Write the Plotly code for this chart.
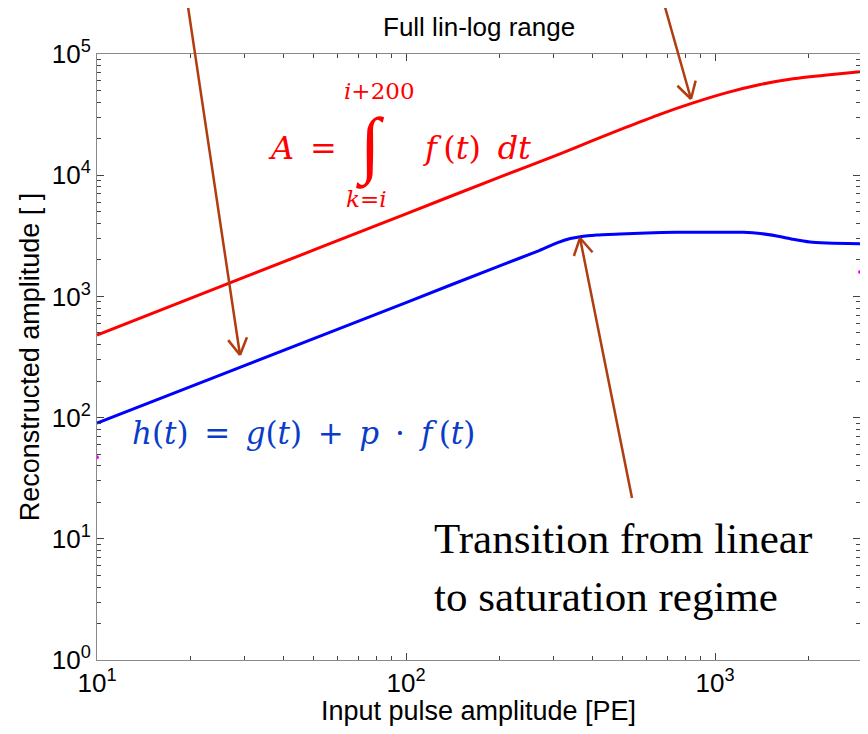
import math
import plotly.graph_objects as go

# ---- data ----
pe_red = [10, 30, 100, 200, 315, 403, 519, 663, 849, 1093, 1400, 1788, 2301, 2944]
amp_red = [480, 1440, 4800, 9600, 15000, 19400, 25000, 31800, 39500, 48000, 56000, 62500, 67200, 71400]

pe_blue = [10, 30, 100, 200, 271, 308, 340, 366, 414, 493, 600, 750, 1000, 1233, 1400, 1584, 1788, 2028, 2296, 2944]
amp_blue = [90, 268, 890, 1780, 2400, 2760, 3000, 3110, 3211, 3273, 3340, 3380, 3385, 3380, 3310, 3150, 2960, 2810, 2760, 2724]

pe_mag = [10, 2944]
amp_mag = [47, 1590]

x_tickvals = [10, 100, 1000]
x_ticktext = ["10<sup>1</sup>", "10<sup>2</sup>", "10<sup>3</sup>"]
y_tickvals = [1, 10, 100, 1000, 10000, 100000]
y_ticktext = ["10<sup>0</sup>", "10<sup>1</sup>", "10<sup>2</sup>", "10<sup>3</sup>", "10<sup>4</sup>", "10<sup>5</sup>"]

title_text = "Full lin-log range"
x_title = "Input pulse amplitude [PE]"
y_title = "Reconstructed amplitude [ ]"

# ---- layout geometry (window px; page body has an 8px margin) ----
OFF = 8
PL, PR, PT, PB = 97, 860, 54, 660          # plot area in window pixels
W, H = 852, 718
L, T = PL - OFF, PT - OFF
R = W - (PR - OFF)
B = H - (PB - OFF)
PW, PH = PR - PL, PB - PT


def pxx(xp):
    return (xp - PL) / PW


def pxy(yp):
    return (PB - yp) / PH


ARROW = "#b03c10"
FONT = "Liberation Sans, Arial, sans-serif"
SERIF = "Liberation Serif, Times New Roman, serif"
MATH = "DejaVu Serif, serif"

fig = go.Figure()
fig.add_trace(go.Scatter(x=pe_red, y=amp_red, mode="lines", line=dict(color="#ff0000", width=3, shape="spline", smoothing=0.6), showlegend=False))
fig.add_trace(go.Scatter(x=pe_blue, y=amp_blue, mode="lines", line=dict(color="#0000ff", width=3, shape="spline", smoothing=0.5), showlegend=False))
fig.add_trace(go.Scatter(x=pe_mag, y=amp_mag, mode="markers", marker=dict(color="#ff00ff", size=4), showlegend=False))

shapes = []


def arrow(x0, y0, x1, y1, head=19, ang=30):
    shapes.append(dict(type="line", xref="paper", yref="paper", x0=pxx(x0), y0=pxy(y0), x1=pxx(x1), y1=pxy(y1),
                       line=dict(color=ARROW, width=2.5)))
    dx, dy = x0 - x1, y0 - y1
    n = math.hypot(dx, dy)
    ux, uy = dx / n, dy / n
    for s in (-1, 1):
        a = math.radians(ang) * s
        wx = ux * math.cos(a) - uy * math.sin(a)
        wy = ux * math.sin(a) + uy * math.cos(a)
        shapes.append(dict(type="line", xref="paper", yref="paper", x0=pxx(x1), y0=pxy(y1),
                           x1=pxx(x1 + wx * head), y1=pxy(y1 + wy * head), line=dict(color=ARROW, width=2.5)))


arrow(187, 0, 240, 355)
arrow(663, 0, 691, 99)
arrow(632, 498, 580, 238)

ann = []


def text(t, x, y, size, color="black", family=FONT, xanchor="center", yanchor="middle"):
    ann.append(dict(text=t, x=pxx(x), y=pxy(y), xref="paper", yref="paper", showarrow=False,
                    xanchor=xanchor, yanchor=yanchor, font=dict(size=size, color=color, family=family)))


S = "\u2009"
E = "\u2002"
text(title_text, 479, 27, 26)
# red formula
text("<i>A</i>" + E + "=", 266, 148, 32, "#ff0000", MATH, xanchor="left")
text("∫", 370, 146, 74, "#ff0000", SERIF)
text("<i>i</i>+200", 379, 91, 23, "#ff0000", MATH)
text("<i>k</i>=<i>i</i>", 366, 199, 23, "#ff0000", MATH)
text("<i>f</i>" + S + "(<i>t</i>)" + S + " <i>dt</i>", 421, 148, 32, "#ff0000", MATH, xanchor="left")
# blue formula
text("<i>h</i>(<i>t</i>)" + E + "=" + E + "<i>g</i>(<i>t</i>)" + E + "+" + E + "<i>p</i>" + S + " · " + S
     + "<i>f</i>" + S + "(<i>t</i>)", 130, 433, 31, "#0a3cc8", MATH, xanchor="left")
# transition note
text("Transition from linear", 432, 538, 43, "black", SERIF, xanchor="left")
text("to saturation regime", 432, 596, 43, "black", SERIF, xanchor="left")

minor_x = [m * 10 ** k for k in range(1, 4) for m in range(2, 10)]
minor_y = [m * 10 ** k for k in range(0, 5) for m in range(2, 10)]

axis_common = dict(type="log", showgrid=False, zeroline=False, showline=True, linecolor="#8a8a8a", linewidth=1,
                   mirror="allticks", ticks="inside", ticklen=7, tickcolor="#444", tickwidth=1,
                   tickfont=dict(family=FONT, size=26, color="black"), tickmode="array")

fig.update_layout(
    width=W, height=H, margin=dict(l=L, r=R, t=T, b=B, autoexpand=False),
    paper_bgcolor="white", plot_bgcolor="white",
    xaxis=dict(range=[1, math.log10(2944)], tickvals=x_tickvals, ticktext=x_ticktext,
               minor=dict(tickvals=minor_x, ticks="inside", ticklen=4, tickcolor="#444"),
               title=dict(text=x_title, font=dict(family=FONT, size=27, color="black"), standoff=12),
               **axis_common),
    yaxis=dict(range=[0, 5], tickvals=y_tickvals, ticktext=y_ticktext,
               minor=dict(tickvals=minor_y, ticks="inside", ticklen=4, tickcolor="#444"),
               title=dict(text=y_title, font=dict(family=FONT, size=27, color="black"), standoff=4),
               **axis_common),
    shapes=shapes, annotations=ann,
)

fig.write_html("out.html")
